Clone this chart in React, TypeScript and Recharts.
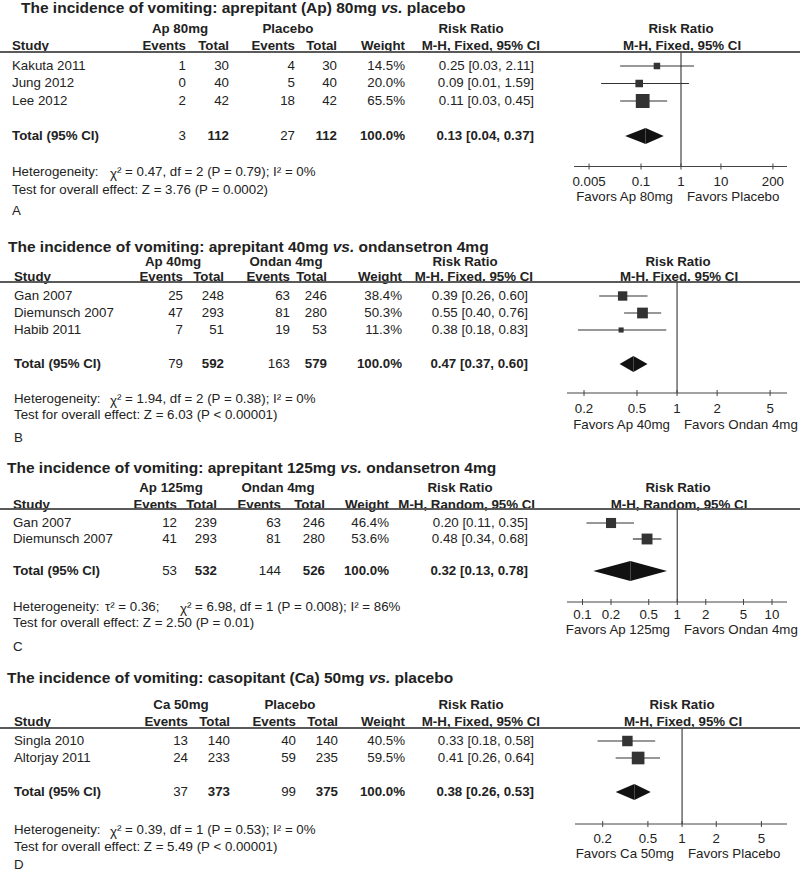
import React from 'react';
import {
  ScatterChart,
  Scatter,
  XAxis,
  YAxis,
  ZAxis,
  ErrorBar,
  ReferenceLine,
  ReferenceArea,
} from 'recharts';

const FONT = '"Liberation Sans", Arial, Helvetica, sans-serif';
const INK = '#222';
const LINE = '#444';
const FS = 13.3;

// Panel A: aprepitant 80mg vs placebo
const studiesA = ['Kakuta 2011', 'Jung 2012', 'Lee 2012'];
const expEventsA = [1, 0, 2];
const expTotalA = [30, 40, 42];
const ctlEventsA = [4, 5, 18];
const ctlTotalA = [30, 40, 42];
const weightA = [14.5, 20.0, 65.5];
const rrA = [0.25, 0.09, 0.11];
const loA = [0.03, 0.01, 0.03];
const hiA = [2.11, 1.59, 0.45];
const totalsA = [3, 112, 27, 112];
const pooledA = [0.13, 0.04, 0.37];
const ticksA = [0.005, 0.1, 1, 10, 200];

// Panel B: aprepitant 40mg vs ondansetron 4mg
const studiesB = ['Gan 2007', 'Diemunsch 2007', 'Habib 2011'];
const expEventsB = [25, 47, 7];
const expTotalB = [248, 293, 51];
const ctlEventsB = [63, 81, 19];
const ctlTotalB = [246, 280, 53];
const weightB = [38.4, 50.3, 11.3];
const rrB = [0.39, 0.55, 0.38];
const loB = [0.26, 0.4, 0.18];
const hiB = [0.6, 0.76, 0.83];
const totalsB = [79, 592, 163, 579];
const pooledB = [0.47, 0.37, 0.6];
const ticksB = [0.2, 0.5, 1, 2, 5];

// Panel C: aprepitant 125mg vs ondansetron 4mg
const studiesC = ['Gan 2007', 'Diemunsch 2007'];
const expEventsC = [12, 41];
const expTotalC = [239, 293];
const ctlEventsC = [63, 81];
const ctlTotalC = [246, 280];
const weightC = [46.4, 53.6];
const rrC = [0.2, 0.48];
const loC = [0.11, 0.34];
const hiC = [0.35, 0.68];
const totalsC = [53, 532, 144, 526];
const pooledC = [0.32, 0.13, 0.78];
const ticksC = [0.1, 0.2, 0.5, 1, 2, 5, 10];

// Panel D: casopitant 50mg vs placebo
const studiesD = ['Singla 2010', 'Altorjay 2011'];
const expEventsD = [13, 24];
const expTotalD = [140, 233];
const ctlEventsD = [40, 59];
const ctlTotalD = [140, 235];
const weightD = [40.5, 59.5];
const rrD = [0.33, 0.41];
const loD = [0.18, 0.26];
const hiD = [0.58, 0.64];
const totalsD = [37, 373, 99, 375];
const pooledD = [0.38, 0.26, 0.53];
const ticksD = [0.2, 0.5, 1, 2, 5];

const panels = [
  {
    letter: 'A',
    title: ['The incidence of vomiting: aprepitant (Ap) 80mg ', ' placebo'],
    expLabel: 'Ap 80mg',
    ctlLabel: 'Placebo',
    method: 'M-H, Fixed, 95% CI',
    studies: studiesA, expEv: expEventsA, expN: expTotalA, ctlEv: ctlEventsA, ctlN: ctlTotalA,
    weight: weightA, rr: rrA, lo: loA, hi: hiA, totals: totalsA, pooled: pooledA, ticks: ticksA,
    tau: null,
    chi: 'χ² = 0.47, df = 2 (P = 0.79); I² = 0%',
    test: 'Test for overall effect: Z = 3.76 (P = 0.0002)',
    favors: ['Favors Ap 80mg', 'Favors Placebo'],
    L: {
      titleX: 21, titleY: 8, h1: 29, h2: 46, lineY: 51.5, rowY: 65.5, step: 17.5,
      hetY: 172, testY: 190, letterY: 211, axisY: 166, tickDy: 15, favY: 197,
      studyX: 12, evE: 186, totE: 229, evC: 295, totC: 337, wt: 405, rr: 534,
      expC: 180, ctlC: 288, rrC: 471, mhR: 540, plotC: 681, chiX: 110,
      axL: 574, axR: 787, domain: [0.0021, 450], sq: 290, dh: 8,
    },
  },
  {
    letter: 'B',
    title: ['The incidence of vomiting: aprepitant 40mg ', ' ondansetron 4mg'],
    expLabel: 'Ap 40mg',
    ctlLabel: 'Ondan 4mg',
    method: 'M-H, Fixed, 95% CI',
    studies: studiesB, expEv: expEventsB, expN: expTotalB, ctlEv: ctlEventsB, ctlN: ctlTotalB,
    weight: weightB, rr: rrB, lo: loB, hi: hiB, totals: totalsB, pooled: pooledB, ticks: ticksB,
    tau: null,
    chi: 'χ² = 1.94, df = 2 (P = 0.38); I² = 0%',
    test: 'Test for overall effect: Z = 6.03 (P < 0.00001)',
    favors: ['Favors Ap 40mg', 'Favors Ondan 4mg'],
    L: {
      titleX: 8, titleY: 246.5, h1: 261.5, h2: 277, lineY: 282, rowY: 296, step: 17,
      hetY: 399, testY: 415, letterY: 438, axisY: 393, tickDy: 15, favY: 425,
      studyX: 14, evE: 183, totE: 224, evC: 290, totC: 327, wt: 402, rr: 528,
      expC: 173, ctlC: 286, rrC: 465, mhR: 533, plotC: 678, chiX: 110,
      axL: 567, axR: 787, domain: [0.149, 6.7], sq: 230, dh: 8,
    },
  },
  {
    letter: 'C',
    title: ['The incidence of vomiting: aprepitant 125mg ', ' ondansetron 4mg'],
    expLabel: 'Ap 125mg',
    ctlLabel: 'Ondan 4mg',
    method: 'M-H, Random, 95% CI',
    studies: studiesC, expEv: expEventsC, expN: expTotalC, ctlEv: ctlEventsC, ctlN: ctlTotalC,
    weight: weightC, rr: rrC, lo: loC, hi: hiC, totals: totalsC, pooled: pooledC, ticks: ticksC,
    tau: 'τ² = 0.36;',
    chi: 'χ² = 6.98, df = 1 (P = 0.008); I² = 86%',
    test: 'Test for overall effect: Z = 2.50 (P = 0.01)',
    favors: ['Favors Ap 125mg', 'Favors Ondan 4mg'],
    L: {
      titleX: 7, titleY: 468, h1: 488, h2: 505, lineY: 509, rowY: 523, step: 16,
      hetY: 607, testY: 623, letterY: 647, axisY: 602, tickDy: 12, favY: 630,
      studyX: 13, evE: 177, totE: 217, evC: 281, totC: 325, wt: 389, rr: 528,
      expC: 171, ctlC: 278, rrC: 460, mhR: 535, plotC: 678, chiX: 180, tauX: 105,
      axL: 567, axR: 787, domain: [0.0686, 14.4], sq: 220, dh: 10,
    },
  },
  {
    letter: 'D',
    title: ['The incidence of vomiting: casopitant (Ca) 50mg ', ' placebo'],
    expLabel: 'Ca 50mg',
    ctlLabel: 'Placebo',
    method: 'M-H, Fixed, 95% CI',
    studies: studiesD, expEv: expEventsD, expN: expTotalD, ctlEv: ctlEventsD, ctlN: ctlTotalD,
    weight: weightD, rr: rrD, lo: loD, hi: hiD, totals: totalsD, pooled: pooledD, ticks: ticksD,
    tau: null,
    chi: 'χ² = 0.39, df = 1 (P = 0.53); I² = 0%',
    test: 'Test for overall effect: Z = 5.49 (P < 0.00001)',
    favors: ['Favors Ca 50mg', 'Favors Placebo'],
    L: {
      titleX: 7, titleY: 678, h1: 705, h2: 722, lineY: 728, rowY: 741, step: 17,
      hetY: 830, testY: 847, letterY: 865, axisY: 824, tickDy: 14, favY: 854,
      studyX: 14, evE: 188, totE: 230, evC: 296, totC: 338, wt: 405, rr: 534,
      expC: 181, ctlC: 290, rrC: 471, mhR: 540, plotC: 682, chiX: 110,
      axL: 575, axR: 787, domain: [0.114, 8.4], sq: 270, dh: 8,
    },
  },
];

const Txt = ({ x, y, a = 'l', b = false, s = FS, children }: any) => {
  const tx = a === 'r' ? '-100%' : a === 'c' ? '-50%' : '0';
  return (
    <div
      style={{
        position: 'absolute',
        left: x,
        top: y,
        transform: `translate(${tx}, -50%)`,
        whiteSpace: 'nowrap',
        fontSize: s,
        fontWeight: b ? 'bold' : 'normal',
        lineHeight: `${s}px`,
        color: INK,
      }}
    >
      {children}
    </div>
  );
};

const LogTick = ({ x, y, payload, off }: any) => (
  <g>
    <line x1={x} x2={x} y1={y - 3} y2={y + 3} stroke={LINE} />
    <text
      x={x}
      y={y + off}
      textAnchor="middle"
      dominantBaseline="central"
      fontSize={FS}
      fontFamily={FONT}
      fill={INK}
    >
      {String(payload.value)}
    </text>
  </g>
);

// left and right halves of the pooled-estimate diamond
const leftHalf = (r: any) => (
  <polygon
    points={`${r.x},${r.y + r.height / 2} ${r.x + r.width},${r.y} ${r.x + r.width},${r.y + r.height}`}
    fill="#111"
  />
);
const rightHalf = (r: any) => (
  <polygon
    points={`${r.x},${r.y} ${r.x + r.width},${r.y + r.height / 2} ${r.x},${r.y + r.height}`}
    fill="#111"
  />
);

const Panel = ({ p }: any) => {
  const L = p.L;
  const n = p.studies.length;
  const totIdx = n + 1;
  const rowY = (i: number) => L.rowY + i * L.step;
  const rows = p.studies.map((s: string, i: number) => ({
    x: p.rr[i],
    y: i,
    z: p.weight[i],
    err: [p.rr[i] - p.lo[i], p.hi[i] - p.rr[i]],
  }));
  const chartH = L.axisY - L.lineY + 24;
  const yDomain = [(L.lineY - L.rowY) / L.step, (L.axisY - L.rowY) / L.step];
  const [est, lo, hi] = p.pooled;
  const dh = L.dh / L.step;

  return (
    <>
      <Txt x={L.titleX} y={L.titleY} b s={15.5}>
        {p.title[0]}
        <i>vs.</i>
        {p.title[1]}
      </Txt>

      <Txt x={L.expC} y={L.h1} a="c" b>{p.expLabel}</Txt>
      <Txt x={L.ctlC} y={L.h1} a="c" b>{p.ctlLabel}</Txt>
      <Txt x={L.rrC} y={L.h1} a="c" b>Risk Ratio</Txt>
      <Txt x={L.plotC} y={L.h1} a="c" b>Risk Ratio</Txt>

      <Txt x={L.studyX} y={L.h2} b>Study</Txt>
      <Txt x={L.evE} y={L.h2} a="r" b>Events</Txt>
      <Txt x={L.totE} y={L.h2} a="r" b>Total</Txt>
      <Txt x={L.evC} y={L.h2} a="r" b>Events</Txt>
      <Txt x={L.totC} y={L.h2} a="r" b>Total</Txt>
      <Txt x={L.wt} y={L.h2} a="r" b>Weight</Txt>
      <Txt x={L.mhR} y={L.h2} a="r" b>{p.method}</Txt>
      <Txt x={L.plotC + 1} y={L.h2} a="c" b>{p.method}</Txt>

      <div
        style={{
          position: 'absolute',
          left: 0,
          top: L.lineY - 1,
          width: 800,
          height: 2,
          background: '#5a5a5a',
        }}
      />

      {p.studies.map((s: string, i: number) => (
        <React.Fragment key={s + i}>
          <Txt x={L.studyX} y={rowY(i)}>{s}</Txt>
          <Txt x={L.evE} y={rowY(i)} a="r">{p.expEv[i]}</Txt>
          <Txt x={L.totE} y={rowY(i)} a="r">{p.expN[i]}</Txt>
          <Txt x={L.evC} y={rowY(i)} a="r">{p.ctlEv[i]}</Txt>
          <Txt x={L.totC} y={rowY(i)} a="r">{p.ctlN[i]}</Txt>
          <Txt x={L.wt} y={rowY(i)} a="r">{p.weight[i].toFixed(1)}%</Txt>
          <Txt x={L.rr} y={rowY(i)} a="r">
            {p.rr[i].toFixed(2)} [{p.lo[i].toFixed(2)}, {p.hi[i].toFixed(2)}]
          </Txt>
        </React.Fragment>
      ))}

      <Txt x={L.studyX} y={rowY(totIdx)} b>Total (95% CI)</Txt>
      <Txt x={L.evE} y={rowY(totIdx)} a="r">{p.totals[0]}</Txt>
      <Txt x={L.totE} y={rowY(totIdx)} a="r" b>{p.totals[1]}</Txt>
      <Txt x={L.evC} y={rowY(totIdx)} a="r">{p.totals[2]}</Txt>
      <Txt x={L.totC} y={rowY(totIdx)} a="r" b>{p.totals[3]}</Txt>
      <Txt x={L.wt} y={rowY(totIdx)} a="r" b>100.0%</Txt>
      <Txt x={L.rr} y={rowY(totIdx)} a="r" b>
        {est.toFixed(2)} [{lo.toFixed(2)}, {hi.toFixed(2)}]
      </Txt>

      <Txt x={L.studyX} y={L.hetY}>Heterogeneity:</Txt>
      {p.tau && <Txt x={L.tauX} y={L.hetY}>{p.tau}</Txt>}
      <Txt x={L.chiX} y={L.hetY}>
        <span style={{ position: 'relative', top: 2 }}>{p.chi.slice(0, 1)}</span>
        {p.chi.slice(1)}
      </Txt>
      <Txt x={L.studyX} y={L.testY}>{p.test}</Txt>
      <Txt x={L.studyX} y={L.letterY}>{p.letter}</Txt>

      <Txt x={L.plotC - 8} y={L.favY} a="r">{p.favors[0]}</Txt>
      <Txt x={L.plotC + 6} y={L.favY}>{p.favors[1]}</Txt>

      <div style={{ position: 'absolute', left: 0, top: L.lineY }}>
        <ScatterChart
          width={800}
          height={chartH}
          margin={{ top: 0, right: 800 - L.axR, bottom: 0, left: L.axL }}
        >
          <XAxis
            type="number"
            dataKey="x"
            scale="log"
            domain={L.domain}
            allowDataOverflow
            ticks={p.ticks}
            interval={0}
            height={24}
            axisLine={{ stroke: LINE }}
            tickLine={false}
            tickSize={0}
            tickMargin={0}
            tick={(t: any) => <LogTick {...t} off={L.tickDy} />}
          />
          <YAxis
            type="number"
            dataKey="y"
            hide
            reversed
            width={0}
            domain={yDomain}
            allowDataOverflow
          />
          <ZAxis type="number" dataKey="z" domain={[0, 100]} range={[0, L.sq]} />
          <ReferenceLine x={1} stroke={LINE} strokeWidth={1.2} />
          <Scatter data={rows} fill="#333" shape="square" isAnimationActive={false}>
            <ErrorBar
              dataKey="err"
              direction="x"
              width={0}
              stroke="#333"
              strokeWidth={1.2}
              isAnimationActive={false}
            />
          </Scatter>
          <ReferenceArea
            x1={lo}
            x2={est}
            y1={totIdx - dh}
            y2={totIdx + dh}
            shape={leftHalf}
          />
          <ReferenceArea
            x1={est}
            x2={hi}
            y1={totIdx - dh}
            y2={totIdx + dh}
            shape={rightHalf}
          />
        </ScatterChart>
      </div>
    </>
  );
}

export default function App() {
  return (
    <div
      style={{
        position: 'absolute',
        left: 0,
        top: 0,
        width: 800,
        height: 873,
        background: '#fff',
        fontFamily: FONT,
        overflow: 'hidden',
      }}
    >
      {panels.map((p) => (
        <Panel key={p.letter} p={p} />
      ))}
    </div>
  );
}
